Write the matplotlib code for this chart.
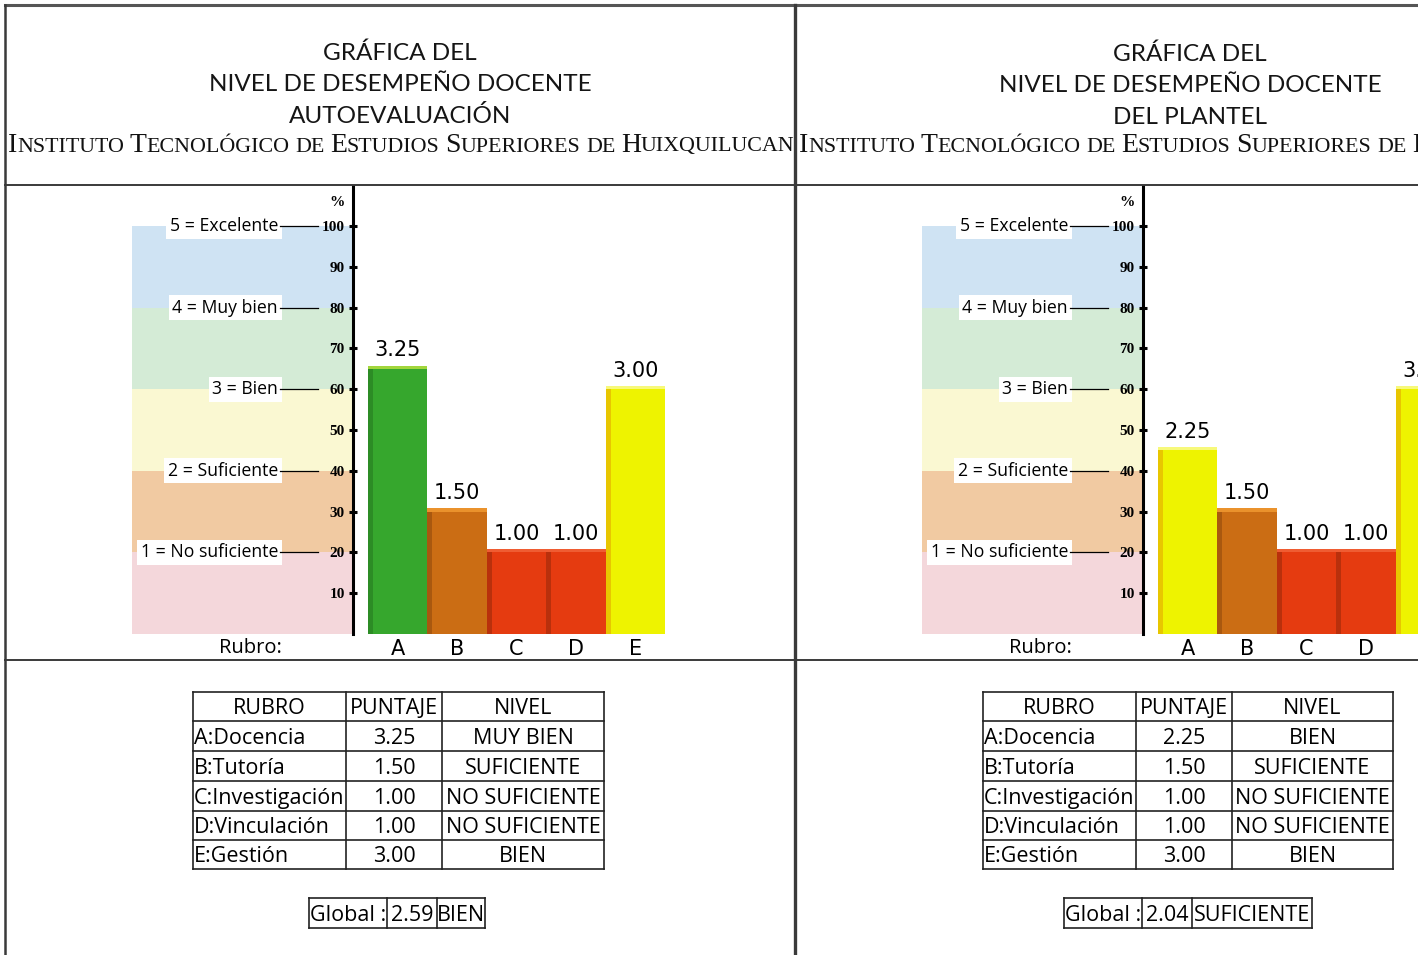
import matplotlib
matplotlib.use('Agg')
import matplotlib.pyplot as plt
from matplotlib import font_manager as fm
from matplotlib.offsetbox import TextArea, HPacker, AnnotationBbox
from matplotlib.patches import Rectangle

# ---------------- data ----------------
rubros = ['A', 'B', 'C', 'D', 'E']
rubro_names = ['A:Docencia', 'B:Tutoría', 'C:Investigación', 'D:Vinculación', 'E:Gestión']

scores_auto = [3.25, 1.50, 1.00, 1.00, 3.00]
niveles_auto = ['MUY BIEN', 'SUFICIENTE', 'NO SUFICIENTE', 'NO SUFICIENTE', 'BIEN']
global_auto = 2.59
global_nivel_auto = 'BIEN'

scores_plantel = [2.25, 1.50, 1.00, 1.00, 3.00]
niveles_plantel = ['BIEN', 'SUFICIENTE', 'NO SUFICIENTE', 'NO SUFICIENTE', 'BIEN']
global_plantel = 2.04
global_nivel_plantel = 'SUFICIENTE'

titles_auto = ['GRÁFICA DEL', 'NIVEL DE DESEMPEÑO DOCENTE', 'AUTOEVALUACIÓN']
titles_plantel = ['GRÁFICA DEL', 'NIVEL DE DESEMPEÑO DOCENTE', 'DEL PLANTEL']
institute = 'Instituto Tecnológico de Estudios Superiores de Huixquilucan'

level_labels = ['1 = No suficiente', '2 = Suficiente', '3 = Bien', '4 = Muy bien', '5 = Excelente']
level_pct = [20, 40, 60, 80, 100]
pct_ticks = [10, 20, 30, 40, 50, 60, 70, 80, 90, 100]
table_header = ['RUBRO', 'PUNTAJE', 'NIVEL']

# ---------------- styles ----------------
band_colors = ['#f4d7db', '#f1caa2', '#faf8d2', '#d4ebd6', '#cfe3f3']
bar_fill = {'MUY BIEN': '#36a72d', 'BIEN': '#eef300', 'SUFICIENTE': '#cb6d14', 'NO SUFICIENTE': '#e53b10'}
bar_top = {'MUY BIEN': '#a2d63c', 'BIEN': '#f7f97a', 'SUFICIENTE': '#ea922c', 'NO SUFICIENTE': '#ef5c32'}
bar_side = {'MUY BIEN': '#2c8c25', 'BIEN': '#e8c600', 'SUFICIENTE': '#a9580f', 'NO SUFICIENTE': '#b9300c'}

avail = {f.name for f in fm.fontManager.ttflist}


def pick(*names):
    for n in names:
        if n in avail:
            return n
    return 'DejaVu Sans'


SANS = pick('Open Sans', 'Lato', 'DejaVu Sans')
TITLE = pick('Lato', 'Open Sans')
SERIF = pick('Liberation Serif', 'DejaVu Serif')
WIDE = 'DejaVu Sans'

W, H = 1418, 955
fig = plt.figure(figsize=(W / 100, H / 100), dpi=100)
fig.patch.set_facecolor('white')

# chart geometry (pixels)
PX_C0 = 397.5      # center of first bar
PX_BW = 59.5       # bar width in px
PY_0 = 634.0       # y pixel of 0 %
PY_U = 4.08        # px per %
PY_TOP = 186.0
XMIN, XMAX = -4.46, 4.5
SPINE = (353 - PX_C0) / PX_BW
YMAX = (PY_0 - PY_TOP) / PY_U


def to_dx(px):
    return (px - PX_C0) / PX_BW


def chart(dx, scores, niveles):
    l = PX_C0 + XMIN * PX_BW + dx
    r = PX_C0 + XMAX * PX_BW + dx
    ax = fig.add_axes([l / W, (H - PY_0) / H, (r - l) / W, (PY_0 - PY_TOP) / H])
    ax.set_xlim(XMIN, XMAX)
    ax.set_ylim(0, YMAX)
    ax.patch.set_alpha(0)
    for s in ['top', 'right', 'bottom']:
        ax.spines[s].set_visible(False)
    ax.spines['left'].set_position(('data', SPINE))
    ax.spines['left'].set_linewidth(2.2)
    ax.spines['left'].set_zorder(5)
    ax.set_yticks(pct_ticks)
    ax.set_yticklabels([str(t) for t in pct_ticks], fontfamily=SERIF,
                       fontweight='bold', fontsize=11)
    ax.tick_params(axis='y', direction='inout', length=6, width=2.2, pad=3)
    ax.set_xticks(range(len(rubros)))
    ax.set_xticklabels(rubros, fontfamily=WIDE, fontsize=15)
    ax.tick_params(axis='x', length=0, pad=3.5)

    lows = [0] + level_pct[:-1]
    for lo, hi, c in zip(lows, level_pct, band_colors):
        ax.add_patch(Rectangle((XMIN, lo), SPINE - XMIN, hi - lo,
                               facecolor=c, edgecolor='none', zorder=0))
    for lab, p in zip(level_labels, level_pct):
        ax.text(to_dx(278), p, lab, ha='right', va='center', fontfamily=SANS,
                fontsize=12.7, zorder=3,
                bbox=dict(facecolor='white', edgecolor='none', pad=2.5))
        ax.plot([to_dx(280), to_dx(318)], [p, p], color='black', lw=0.9,
                zorder=3, clip_on=False)
    ax.text(to_dx(337), (PY_0 - 203) / PY_U, '%', ha='center', va='center',
            fontfamily=SERIF, fontweight='bold', fontsize=11, clip_on=False)

    xs = list(range(len(scores)))
    hs = [s * 20 for s in scores]
    ax.bar(xs, hs, width=1.0, color=[bar_fill[n] for n in niveles],
           edgecolor='none', zorder=2)
    ax.bar([x - 0.46 for x in xs], hs, width=0.08,
           color=[bar_side[n] for n in niveles], edgecolor='none', zorder=2.1)
    ax.bar(xs, [0.8] * len(xs), bottom=hs, width=1.0,
           color=[bar_top[n] for n in niveles], edgecolor='none', zorder=2.2)
    for x, h, s in zip(xs, hs, scores):
        ax.annotate(f'{s:.2f}', (x, h), xytext=(0, 6), textcoords='offset points',
                    ha='center', va='bottom', fontfamily=WIDE, fontsize=15,
                    annotation_clip=False)
    return ax


chart(0, scores_auto, niveles_auto)
chart(790, scores_plantel, niveles_plantel)

# overlay in pixel coordinates
ov = fig.add_axes([0, 0, 1, 1], zorder=10)
ov.set_xlim(0, W)
ov.set_ylim(H, 0)
ov.axis('off')

LC = '#3a3a3a'
ov.plot([5, W], [5, 5], color='#555555', lw=2.2)
ov.plot([5, 5], [5, H], color=LC, lw=1.8)
ov.plot([795, 795], [5, H], color=LC, lw=2.4)
ov.plot([5, W], [185, 185], color=LC, lw=1.4)
ov.plot([5, W], [660, 660], color=LC, lw=1.4)

for cx, dy, lines in [(400, 0, titles_auto), (1190, 1, titles_plantel)]:
    for i, t in enumerate(lines):
        ov.text(cx, 53 + dy + 31.5 * i, t, ha='center', va='center',
                fontfamily=TITLE, fontweight='normal', fontsize=17.5, color='#151515')


def smallcaps_box(text, big=20.0, small=15.8):
    kids = []
    for wi, word in enumerate(text.split(' ')):
        if wi > 0:
            kids.append(TextArea(' ', textprops=dict(fontsize=small, fontfamily=SERIF)))
        run, runbig = '', None
        for ch in word:
            b = ch.isupper()
            if runbig is None or b == runbig:
                run += ch.upper()
                runbig = b
            else:
                kids.append(TextArea(run, textprops=dict(fontsize=big if runbig else small,
                                                         fontfamily=SERIF, color='#111111')))
                run, runbig = ch.upper(), b
        kids.append(TextArea(run, textprops=dict(fontsize=big if runbig else small,
                                                 fontfamily=SERIF, color='#111111')))
    return HPacker(children=kids, align='baseline', pad=0, sep=0)


for x0 in [8, 799]:
    ab = AnnotationBbox(smallcaps_box(institute), (x0, 145), xycoords='data',
                        box_alignment=(0, 0.5), frameon=False, pad=0,
                        annotation_clip=False)
    ov.add_artist(ab)

# Rubro labels
for cx in [250, 1040]:
    ov.text(cx, 648, 'Rubro:', ha='center', va='center', fontfamily=SANS, fontsize=14.5)

TFS = 15.5


def table(cols, names, scores, niveles, gcols, gscore, gnivel):
    rows = [692, 721, 751, 781, 811, 840, 869]
    for y in rows:
        ov.plot([cols[0], cols[-1]], [y, y], color='#222222', lw=1.2)
    for x in cols:
        ov.plot([x, x], [rows[0], rows[-1]], color='#222222', lw=1.2)
    for j, hdr in enumerate(table_header):
        ov.text((cols[j] + cols[j + 1]) / 2, (rows[0] + rows[1]) / 2 + 2, hdr,
                ha='center', va='center', fontfamily=SANS, fontsize=TFS)
    for i in range(len(names)):
        yc = (rows[i + 1] + rows[i + 2]) / 2 + 2
        ov.text(cols[0] + 1, yc, names[i], ha='left', va='center',
                fontfamily=SANS, fontsize=TFS)
        ov.text((cols[1] + cols[2]) / 2, yc, f'{scores[i]:.2f}', ha='center',
                va='center', fontfamily=SANS, fontsize=TFS)
        ov.text((cols[2] + cols[3]) / 2, yc, niveles[i], ha='center',
                va='center', fontfamily=SANS, fontsize=TFS)
    gy0, gy1 = 898, 928
    ov.plot([gcols[0], gcols[-1]], [gy0, gy0], color='#222222', lw=1.2)
    ov.plot([gcols[0], gcols[-1]], [gy1, gy1], color='#222222', lw=1.2)
    for x in gcols:
        ov.plot([x, x], [gy0, gy1], color='#222222', lw=1.2)
    for j, t in enumerate(['Global :', f'{gscore:.2f}', gnivel]):
        ov.text((gcols[j] + gcols[j + 1]) / 2, (gy0 + gy1) / 2 + 2, t, ha='center',
                va='center', fontfamily=SANS, fontsize=TFS)


table([193, 346, 442, 604], rubro_names, scores_auto, niveles_auto,
      [309, 387, 437, 485], global_auto, global_nivel_auto)
table([983, 1136, 1232, 1393], rubro_names, scores_plantel, niveles_plantel,
      [1064, 1142, 1192, 1312], global_plantel, global_nivel_plantel)

fig.savefig('out.png', dpi=100, facecolor='white')
